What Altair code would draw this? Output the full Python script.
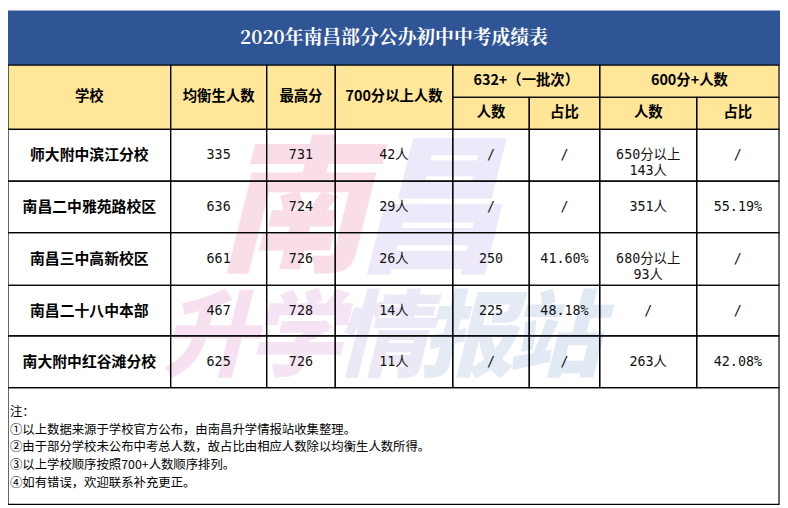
import altair as alt
import pandas as pd

# ---------------- data ----------------
title = "2020年南昌部分公办初中中考成绩表"
header_top = ["学校", "均衡生人数", "最高分", "700分以上人数", "632+（一批次）", "600分+人数"]
header_sub = ["人数", "占比", "人数", "占比"]
schools = ["师大附中滨江分校", "南昌二中雅苑路校区", "南昌三中高新校区", "南昌二十八中本部", "南大附中红谷滩分校"]
balanced = ["335", "636", "661", "467", "625"]
top_score = ["731", "724", "726", "728", "726"]
over700 = ["42人", "29人", "26人", "14人", "11人"]
p632_count = ["/", "/", "250", "225", "/"]
p632_ratio = ["/", "/", "41.60%", "48.18%", "/"]
p600_count = ["650分以上\n143人", "351人", "680分以上\n93人", "/", "263人"]
p600_ratio = ["/", "55.19%", "/", "/", "42.08%"]
notes = [
    "注：",
    "①以上数据来源于学校官方公布，由南昌升学情报站收集整理。",
    "②由于部分学校未公布中考总人数，故占比由相应人数除以均衡生人数所得。",
    "③以上学校顺序按照700+人数顺序排列。",
    "④如有错误，欢迎联系补充更正。",
]
watermark_top = ["南", "昌"]
watermark_bottom = ["升", "学", "情", "报", "站"]

# ---------------- layout ----------------
W, H = 788, 508
col_edges = [0, 166, 264, 334, 454, 532, 604, 703, 787]
title_y = (0, 56)
head_y = (56, 89, 122)
row_edges = [122, 175, 228, 282, 334, 387]
notes_box = (387, 507)
BLUE = "#2F5597"
YELLOW = "#FFE699"

fills, borders, texts = [], [], []

def cell(x0, x1, y0, y1, fill, text=None, style="num"):
    fills.append(dict(x=x0, x2=x1, y=y0, y2=y1, fill=fill))
    borders.append(dict(x=x0, x2=x1, y=y0, y2=y1))
    if text is not None:
        texts.append(dict(xc=(x0 + x1) / 2, yc=(y0 + y1) / 2, text=text, style=style))

# title band
fills.append(dict(x=0, x2=W, y=title_y[0], y2=title_y[1], fill=BLUE))
texts.append(dict(xc=W / 2, yc=(title_y[0] + title_y[1]) / 2, text=title, style="title"))

# header
for i in range(4):
    cell(col_edges[i], col_edges[i + 1], head_y[0], head_y[2], YELLOW, header_top[i], "head")
cell(col_edges[4], col_edges[6], head_y[0], head_y[1], YELLOW, header_top[4], "head")
cell(col_edges[6], col_edges[8], head_y[0], head_y[1], YELLOW, header_top[5], "head")
for j, lab in enumerate(header_sub):
    cell(col_edges[4 + j], col_edges[5 + j], head_y[1], head_y[2], YELLOW, lab, "head")

# body
cols = [schools, balanced, top_score, over700, p632_count, p632_ratio, p600_count, p600_ratio]
for r in range(len(schools)):
    for c, col in enumerate(cols):
        cell(col_edges[c], col_edges[c + 1], row_edges[r], row_edges[r + 1], "white",
             col[r], "school" if c == 0 else "num")

# notes box
cell(0, col_edges[-1], notes_box[0], notes_box[1], "white")
for i, line in enumerate(notes):
    texts.append(dict(xc=2, yc=notes_box[0] + 25 + i * 18.2, text=line, style="note"))

# watermark
wm = []
wm_top_colors = ["#f6c9dc", "#e3dcf7"]
for i, ch in enumerate(watermark_top):
    wm.append(dict(xc=290 + i * 140, yc=210, text=ch, color=wm_top_colors[i], size=150))
wm_bot_colors = ["#f3cde6", "#f0d3ec", "#e2daf1", "#d3deee", "#cddcee"]
for i, ch in enumerate(watermark_bottom):
    wm.append(dict(xc=205 + i * 88, yc=338, text=ch, color=wm_bot_colors[i], size=95))

fdf = pd.DataFrame(fills)
bdf = pd.DataFrame(borders)
tdf = pd.DataFrame(texts)
wdf = pd.DataFrame(wm)

xs = alt.Scale(domain=[0, W])
ys = alt.Scale(domain=[0, H], reverse=True)

fill_layer = alt.Chart(fdf).mark_rect(strokeWidth=0).encode(
    x=alt.X("x:Q", scale=xs, axis=None), x2="x2:Q",
    y=alt.Y("y:Q", scale=ys, axis=None), y2="y2:Q",
    fill=alt.Fill("fill:N", scale=None),
)

wm_layer = alt.Chart(wdf).mark_text(
    font="Noto Sans CJK SC", fontWeight=900, fontStyle="italic", opacity=0.6, baseline="middle"
).encode(
    x=alt.X("xc:Q", scale=xs, axis=None),
    y=alt.Y("yc:Q", scale=ys, axis=None),
    text="text:N",
    color=alt.Color("color:N", scale=None),
    size=alt.Size("size:Q", scale=None),
)

border_layer = alt.Chart(bdf).mark_rect(fillOpacity=0, stroke="black", strokeWidth=1.2).encode(
    x=alt.X("x:Q", scale=xs, axis=None), x2="x2:Q",
    y=alt.Y("y:Q", scale=ys, axis=None), y2="y2:Q",
)

def text_layer(style, **kw):
    return alt.Chart(tdf).transform_filter(alt.datum.style == style).mark_text(
        baseline="middle", lineBreak="\n", **kw
    ).encode(
        x=alt.X("xc:Q", scale=xs, axis=None),
        y=alt.Y("yc:Q", scale=ys, axis=None),
        text="text:N",
    )

title_layer = text_layer("title", font="Noto Serif CJK SC, Noto Sans CJK SC", fontSize=19,
                         fontWeight="bold", color="white", align="center")
head_layer = text_layer("head", font="Noto Sans CJK SC", fontSize=14.5, fontWeight="bold",
                        color="black", align="center")
school_layer = text_layer("school", font="Noto Sans CJK SC", fontSize=15, fontWeight="bold",
                          color="black", align="center")
num_layer = text_layer("num", font="DejaVu Sans Mono, Noto Sans CJK SC", fontSize=13.5,
                       color="#111", align="center", lineHeight=16)
note_layer = text_layer("note", font="Noto Sans CJK SC", fontSize=12.5, color="black",
                        align="left")

chart = alt.layer(
    fill_layer, wm_layer, border_layer, title_layer, head_layer, school_layer, num_layer, note_layer
).properties(
    width=W - 8, height=H - 8, padding=0, autosize=alt.AutoSizeParams(type="none")
).configure_view(stroke=None)

chart.save("out.html", embed_options={"renderer": "svg", "actions": False})
